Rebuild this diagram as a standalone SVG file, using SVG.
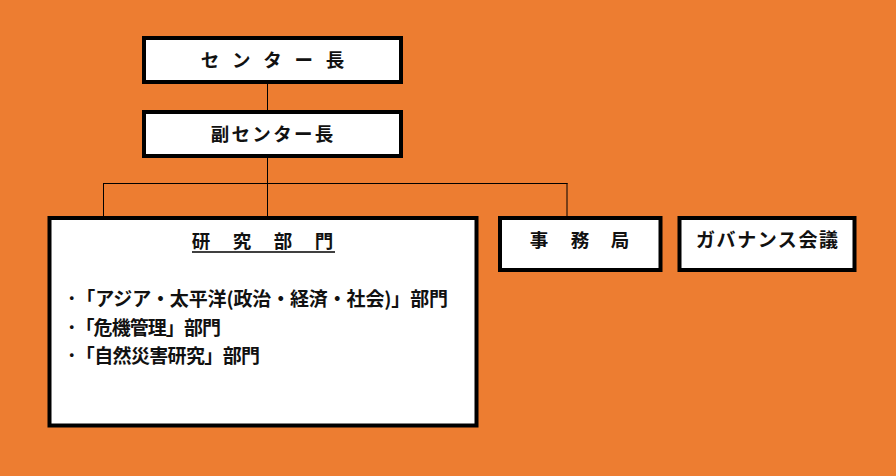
<svg xmlns="http://www.w3.org/2000/svg" width="896" height="476" viewBox="0 0 896 476">
<style>
.box{fill:#fff;stroke:#000;stroke-width:4}
.t{font-family:"Noto Sans CJK JP","Noto Sans CJK SC",sans-serif;font-size:18.5px;font-weight:bold;fill:#111}
.l{font-size:19px}
.c{text-anchor:middle}
.ln{stroke:#000;stroke-width:1;fill:none}
</style>
<rect x="0" y="0" width="896" height="476" fill="#ED7D31"/>
<g id="connectors">
<path class="ln" d="M267.5 84V110M267.5 158V216M103 183.5H567.5M103.5 183V216M567 183V216"/>
</g>
<g id="center-director">
<rect class="box" x="144" y="38" width="257" height="44"/>
<text class="t c" x="210 241.25 272.5 303.75 335" y="66.5">センター長</text>
</g>
<g id="deputy-director">
<rect class="box" x="144" y="112" width="257" height="44"/>
<text class="t c" x="220 240.8 261.6 282.4 303.2 324" y="140.5">副センター長</text>
</g>
<g id="research">
<rect class="box" x="49.5" y="218" width="427" height="207.5"/>
<text class="t c" x="201 242 283 324" y="248">研究部門</text>
<line x1="192" y1="252" x2="335" y2="252" stroke="#000" stroke-width="1.5"/>
<text class="t l" x="67" y="306" textLength="381">･「アジア・太平洋(政治・経済・社会)」部門</text>
<text class="t l" x="67" y="334.5" textLength="154">･「危機管理」部門</text>
<text class="t l" x="67" y="363" textLength="193">･「自然災害研究」部門</text>
</g>
<g id="secretariat">
<rect class="box" x="500" y="218" width="160.5" height="52"/>
<text class="t c" x="539 580 620" y="247">事務局</text>
</g>
<g id="governance">
<rect class="box" x="679.5" y="218" width="175" height="52"/>
<text class="t l" x="696" y="247" textLength="142">ガバナンス会議</text>
</g>
</svg>
